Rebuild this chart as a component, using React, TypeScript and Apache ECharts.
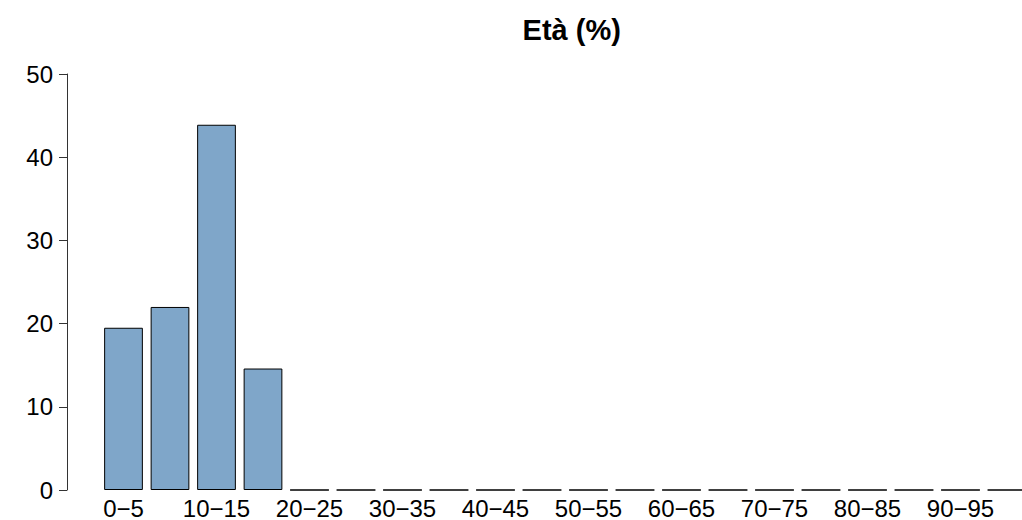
import React, { useEffect, useRef } from "react";
import * as echarts from "echarts";

const categories: string[] = [
  "0−5", "5−10", "10−15", "15−20", "20−25", "25−30", "30−35", "35−40", "40−45", "45−50",
  "50−55", "55−60", "60−65", "65−70", "70−75", "75−80", "80−85", "85−90", "90−95", "95−100",
];
const values: number[] = [19.5, 22.0, 43.9, 14.6, 0, 0, 0, 0, 0, 0, 0, 0, 0, 0, 0, 0, 0, 0, 0, 0];
const yTicks = { min: 0, max: 50, interval: 10 };
const titleText = "Età (%)";

const FONT = "'Liberation Sans', Arial, Helvetica, sans-serif";

export default function App() {
  const ref = useRef<HTMLDivElement>(null);
  useEffect(() => {
    if (!ref.current) return;
    const chart = echarts.init(ref.current, undefined, { renderer: "svg" });
    chart.setOption({
      animation: false,
      backgroundColor: "#ffffff",
      title: {
        text: titleText,
        left: 566.7,
        top: 10,
        textAlign: "center",
        textStyle: { fontFamily: FONT, fontSize: 29, fontWeight: "bold", color: "#000" },
      },
      grid: { left: 100.25, right: 9.75, top: 74, bottom: 30, containLabel: false },
      xAxis: {
        type: "category",
        data: categories,
        boundaryGap: true,
        axisLine: { show: false },
        axisTick: { show: false },
        axisLabel: { interval: 1, fontFamily: FONT, fontSize: 24, color: "#000", margin: 6 },
      },
      yAxis: {
        type: "value",
        min: yTicks.min,
        max: yTicks.max,
        interval: yTicks.interval,
        offset: 33.25,
        splitLine: { show: false },
        axisLine: { show: true, lineStyle: { color: "#333", width: 1 } },
        axisTick: { show: true, length: 8, lineStyle: { color: "#333", width: 1 } },
        axisLabel: { fontFamily: FONT, fontSize: 24, color: "#000", margin: 14 },
      },
      series: [
        {
          type: "bar",
          data: values,
          barCategoryGap: "16.67%",
          itemStyle: { color: "#7FA6C9", borderColor: "#000", borderWidth: 1 },
        },
      ],
    });
    return () => chart.dispose();
  }, []);
  return (
    <div
      ref={ref}
      style={{ position: "fixed", left: 0, top: 0, width: 1040, height: 520 }}
    />
  );
}
